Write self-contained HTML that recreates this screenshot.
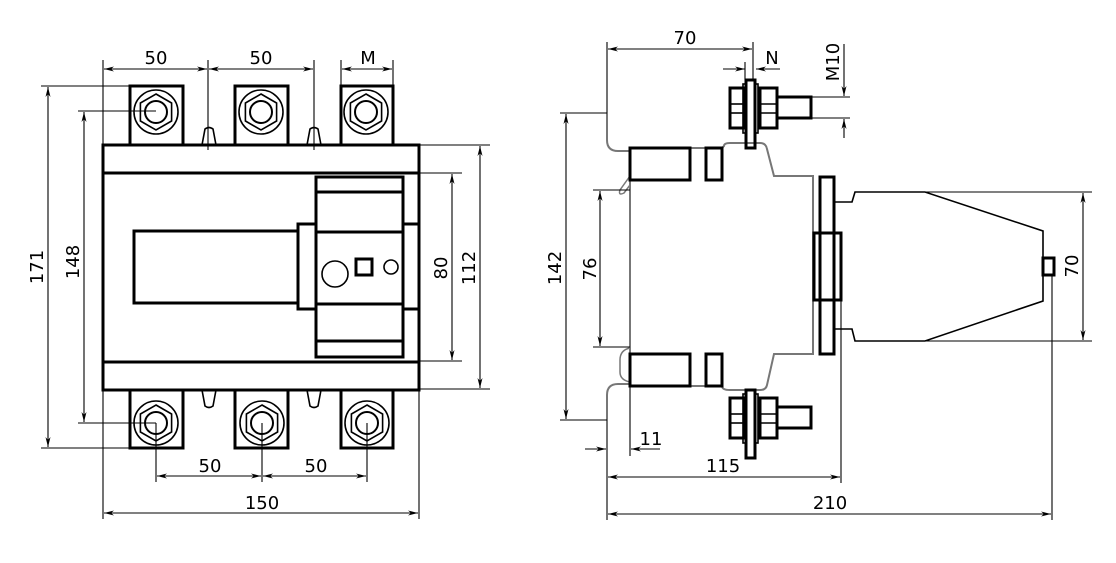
<!DOCTYPE html>
<html><head><meta charset="utf-8"><style>
html,body{margin:0;padding:0;background:#fff}
svg{display:block}
text{font-family:"DejaVu Sans","Liberation Sans",sans-serif;font-size:18px;fill:#000}
.t{fill:none;stroke:#000;stroke-width:3}
.m{fill:none;stroke:#000;stroke-width:1.6}
.d{fill:none;stroke:#000;stroke-width:1.1}
.g{fill:none;stroke:#777;stroke-width:2}
</style></head><body>
<svg width="1116" height="563" viewBox="0 0 1116 563" xmlns="http://www.w3.org/2000/svg">
<defs>
<marker id="a" viewBox="0 0 10 6" refX="10" refY="3" markerWidth="10" markerHeight="6" orient="auto-start-reverse" markerUnits="userSpaceOnUse">
<path d="M0,0.5 L10,3 L0,5.5 L3,3 Z" fill="#000"/></marker>
<g id="nut">
<circle r="22" class="m"/>
<polygon points="0,-18 15.6,-9 15.6,9 0,18 -15.6,9 -15.6,-9" class="m"/>
<circle r="11" class="t" style="stroke-width:2"/>
</g>
<g id="bolt">
<rect x="746" y="0" width="9" height="68" class="t"/>
<rect x="730" y="8" width="14" height="40" class="t"/>
<line x1="730" y1="24" x2="744" y2="24" class="m"/>
<line x1="730" y1="33" x2="744" y2="33" class="m"/>
<rect x="743" y="4" width="3" height="49" class="m"/>
<rect x="755" y="4" width="3" height="49" class="m"/>
<rect x="760" y="8" width="17" height="40" class="t"/>
<line x1="760" y1="24" x2="777" y2="24" class="m"/>
<line x1="760" y1="33" x2="777" y2="33" class="m"/>
<rect x="777" y="17" width="34" height="21" class="t"/>
</g>
</defs>

<rect x="103" y="145" width="316" height="245" class="t"/>
<line x1="103" y1="173" x2="419" y2="173" class="t"/>
<line x1="103" y1="362" x2="419" y2="362" class="t"/>
<rect x="130" y="86" width="53" height="59" class="t"/>
<rect x="235" y="86" width="53" height="59" class="t"/>
<rect x="341" y="86" width="52" height="59" class="t"/>
<use href="#nut" x="156" y="112"/><use href="#nut" x="261" y="112"/><use href="#nut" x="366" y="112"/>
<rect x="130" y="390" width="53" height="58" class="t"/>
<rect x="235" y="390" width="53" height="58" class="t"/>
<rect x="341" y="390" width="52" height="58" class="t"/>
<use href="#nut" x="156" y="423"/><use href="#nut" x="262" y="423"/><use href="#nut" x="367" y="423"/>
<path d="M202,145 L205,129 Q209,126 213,129 L216,145" class="m"/>
<path d="M307,145 L310,129 Q314,126 318,129 L321,145" class="m"/>
<path d="M202,390 L205,406 Q209,409 213,406 L216,390" class="m"/>
<path d="M307,390 L310,406 Q314,409 318,406 L321,390" class="m"/>
<rect x="134" y="231" width="164" height="72" class="t"/>
<rect x="298" y="224" width="18" height="85" class="t"/>
<rect x="316" y="177" width="87" height="180" class="t"/>
<line x1="316" y1="192" x2="403" y2="192" class="t"/>
<line x1="316" y1="232" x2="403" y2="232" class="t"/>
<line x1="316" y1="304" x2="403" y2="304" class="t"/>
<line x1="316" y1="341" x2="403" y2="341" class="t"/>
<rect x="403" y="224" width="16" height="85" class="t"/>
<circle cx="335" cy="274" r="13" class="m"/>
<rect x="356" y="259" width="16" height="16" class="t"/>
<circle cx="391" cy="267" r="7" class="m"/>

<g class="d">
<line x1="103" y1="60" x2="103" y2="145"/>
<line x1="208" y1="60" x2="208" y2="150"/>
<line x1="314" y1="60" x2="314" y2="150"/>
<line x1="341" y1="60" x2="341" y2="86"/>
<line x1="393" y1="60" x2="393" y2="86"/>
<line x1="104" y1="69" x2="207" y2="69" marker-start="url(#a)" marker-end="url(#a)"/>
<line x1="209" y1="69" x2="313" y2="69" marker-start="url(#a)" marker-end="url(#a)"/>
<line x1="342" y1="69" x2="392" y2="69" marker-start="url(#a)" marker-end="url(#a)"/>
<line x1="156" y1="423" x2="156" y2="482"/>
<line x1="262" y1="423" x2="262" y2="482"/>
<line x1="367" y1="423" x2="367" y2="482"/>
<line x1="157" y1="476" x2="261" y2="476" marker-start="url(#a)" marker-end="url(#a)"/>
<line x1="263" y1="476" x2="366" y2="476" marker-start="url(#a)" marker-end="url(#a)"/>
<line x1="103" y1="390" x2="103" y2="519"/>
<line x1="419" y1="390" x2="419" y2="519"/>
<line x1="104" y1="513" x2="418" y2="513" marker-start="url(#a)" marker-end="url(#a)"/>
<line x1="41" y1="86" x2="130" y2="86"/>
<line x1="41" y1="448" x2="130" y2="448"/>
<line x1="48" y1="87" x2="48" y2="447" marker-start="url(#a)" marker-end="url(#a)"/>
<line x1="78" y1="111" x2="156" y2="111"/>
<line x1="78" y1="423" x2="156" y2="423"/>
<line x1="84" y1="112" x2="84" y2="422" marker-start="url(#a)" marker-end="url(#a)"/>
<line x1="419" y1="173" x2="462" y2="173"/>
<line x1="419" y1="361" x2="462" y2="361"/>
<line x1="452" y1="174" x2="452" y2="360" marker-start="url(#a)" marker-end="url(#a)"/>
<line x1="419" y1="145" x2="490" y2="145"/>
<line x1="419" y1="389" x2="490" y2="389"/>
<line x1="480" y1="146" x2="480" y2="388" marker-start="url(#a)" marker-end="url(#a)"/>
</g>
<text x="156" y="64" text-anchor="middle">50</text>
<text x="261" y="64" text-anchor="middle">50</text>
<text x="368" y="64" text-anchor="middle">M</text>
<text x="210" y="472" text-anchor="middle">50</text>
<text x="316" y="472" text-anchor="middle">50</text>
<text x="262" y="509" text-anchor="middle">150</text>
<text transform="translate(43,267) rotate(-90)" text-anchor="middle">171</text>
<text transform="translate(79,262) rotate(-90)" text-anchor="middle">148</text>
<text transform="translate(447,268) rotate(-90)" text-anchor="middle">80</text>
<text transform="translate(475,268) rotate(-90)" text-anchor="middle">112</text>

<path d="M607,113 L607,140 Q607,151 618,151 L630,151" class="g"/>
<path d="M607,420 L607,395 Q607,384 618,384 L630,384" class="g"/>
<path d="M630,176 L620,190 Q618,196 624,193 L630,185" class="g" style="stroke-width:1.5"/>
<path d="M630,348 Q620,350 620,360 L620,372 Q620,380 630,382" class="g" style="stroke-width:1.5"/>
<path d="M630,180 L630,354 M722,148 L724,146 Q724,143 730,143 L760,143 Q766,143 767,149 L774,176 L813,176 L813,354 L774,354 L767,385 Q766,390 760,390 L730,390 Q722,390 722,386" class="g"/>
<line x1="690" y1="148" x2="706" y2="148" class="g"/>
<line x1="690" y1="386" x2="706" y2="386" class="g"/>
<rect x="630" y="148" width="60" height="32" class="t"/>
<rect x="706" y="148" width="16" height="32" class="t"/>
<rect x="630" y="354" width="60" height="32" class="t"/>
<rect x="706" y="354" width="16" height="32" class="t"/>
<use href="#bolt" y="80"/>
<use href="#bolt" y="390"/>
<rect x="820" y="177" width="14" height="177" class="t"/>
<rect x="814" y="233" width="27" height="67" class="t"/>
<path d="M834,202 L852,202 L855,192 L925,192 L1043,231 L1043,301 L925,341 L855,341 L852,329 L834,329" class="m"/>
<rect x="1043" y="258" width="11" height="17" class="t"/>

<g class="d">
<line x1="607" y1="42" x2="607" y2="113"/>
<line x1="753" y1="42" x2="753" y2="80"/>
<line x1="608" y1="49" x2="752" y2="49" marker-start="url(#a)" marker-end="url(#a)"/>
<line x1="723" y1="69" x2="745" y2="69" marker-end="url(#a)"/>
<line x1="780" y1="69" x2="756" y2="69" marker-end="url(#a)"/>
<line x1="745" y1="62" x2="745" y2="80"/>
<line x1="811" y1="97" x2="850" y2="97"/>
<line x1="811" y1="118" x2="850" y2="118"/>
<line x1="844" y1="44" x2="844" y2="96" marker-end="url(#a)"/>
<line x1="844" y1="138" x2="844" y2="119" marker-end="url(#a)"/>
<line x1="560" y1="113" x2="607" y2="113"/>
<line x1="560" y1="420" x2="607" y2="420"/>
<line x1="566" y1="114" x2="566" y2="419" marker-start="url(#a)" marker-end="url(#a)"/>
<line x1="593" y1="190" x2="630" y2="190"/>
<line x1="593" y1="347" x2="630" y2="347"/>
<line x1="600" y1="191" x2="600" y2="346" marker-start="url(#a)" marker-end="url(#a)"/>
<line x1="925" y1="192" x2="1092" y2="192"/>
<line x1="925" y1="341" x2="1092" y2="341"/>
<line x1="1083" y1="193" x2="1083" y2="340" marker-start="url(#a)" marker-end="url(#a)"/>
<line x1="607" y1="420" x2="607" y2="520"/>
<line x1="630" y1="386" x2="630" y2="456"/>
<line x1="585" y1="449" x2="606" y2="449" marker-end="url(#a)"/>
<line x1="660" y1="449" x2="631" y2="449" marker-end="url(#a)"/>
<line x1="841" y1="300" x2="841" y2="483"/>
<line x1="608" y1="477" x2="840" y2="477" marker-start="url(#a)" marker-end="url(#a)"/>
<line x1="1052" y1="275" x2="1052" y2="520"/>
<line x1="608" y1="514" x2="1051" y2="514" marker-start="url(#a)" marker-end="url(#a)"/>
</g>
<text x="685" y="44" text-anchor="middle">70</text>
<text x="772" y="64" text-anchor="middle">N</text>
<text transform="translate(839,62) rotate(-90)" text-anchor="middle">M10</text>
<text transform="translate(561,268) rotate(-90)" text-anchor="middle">142</text>
<text transform="translate(596,269) rotate(-90)" text-anchor="middle">76</text>
<text transform="translate(1078,266) rotate(-90)" text-anchor="middle">70</text>
<text x="651" y="445" text-anchor="middle">11</text>
<text x="723" y="472" text-anchor="middle">115</text>
<text x="830" y="509" text-anchor="middle">210</text>
</svg>
</body></html>
